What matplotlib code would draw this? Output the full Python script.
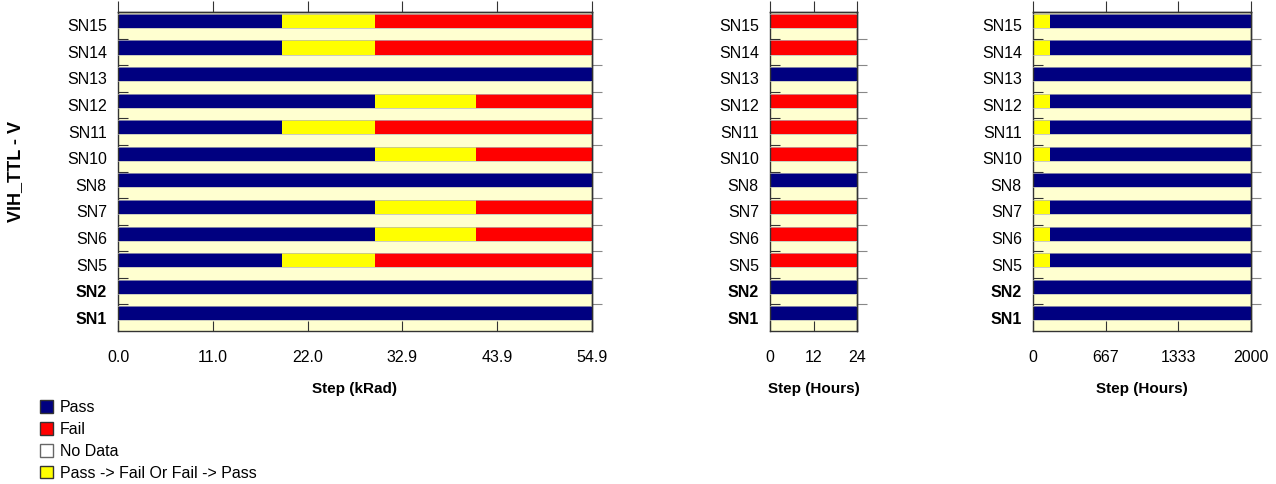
import matplotlib.pyplot as plt
from matplotlib.patches import Patch

plt.rcParams['font.family'] = ['Liberation Sans', 'DejaVu Sans']
plt.rcParams['font.size'] = 11.5

# rows, bottom to top
units = ['SN1', 'SN2', 'SN5', 'SN6', 'SN7', 'SN8', 'SN10', 'SN11', 'SN12', 'SN13', 'SN14', 'SN15']
bold_units = ['SN1', 'SN2']

# status codes: P = pass, F = fail, T = transition (pass -> fail or fail -> pass)
krad_status = ['P', 'P', 'PTF', 'PTF', 'PTF', 'P', 'PTF', 'PTF', 'PTF', 'P', 'PTF', 'PTF']
krad_edges = [[0, 54.9], [0, 54.9],
              [0, 19.0, 29.8, 54.9], [0, 29.8, 41.5, 54.9], [0, 29.8, 41.5, 54.9],
              [0, 54.9],
              [0, 29.8, 41.5, 54.9], [0, 19.0, 29.8, 54.9], [0, 29.8, 41.5, 54.9],
              [0, 54.9],
              [0, 19.0, 29.8, 54.9], [0, 19.0, 29.8, 54.9]]
krad_ticks = [0.0, 11.0, 22.0, 32.9, 43.9, 54.9]

anneal_status = ['P', 'P', 'F', 'F', 'F', 'P', 'F', 'F', 'F', 'P', 'F', 'F']
anneal_edges = [[0, 24]] * 12
anneal_ticks = [0, 12, 24]

life_status = ['P', 'P', 'TP', 'TP', 'TP', 'P', 'TP', 'TP', 'TP', 'P', 'TP', 'TP']
life_edges = [[0, 2000] if s == 'P' else [0, 156, 2000] for s in life_status]
life_ticks = [0, 667, 1333, 2000]

colors = {'P': '#000080', 'F': '#ff0000', 'T': '#ffff00'}
bg = '#ffffd0'

fig = plt.figure(figsize=(12.76, 4.84), dpi=100)
H = 484.0
W = 1276.0
bottom = 1 - 331 / H
height = (331 - 12) / H
ax1 = fig.add_axes([118 / W, bottom, 474 / W, height])
ax2 = fig.add_axes([770 / W, bottom, 87 / W, height])
ax3 = fig.add_axes([1033 / W, bottom, 218 / W, height])


def draw(ax, status, edges, ticks, fmt, xlabel):
    ax.set_facecolor(bg)
    for i, (st, ed) in enumerate(zip(status, edges)):
        for j, code in enumerate(st):
            ax.barh(i + 0.665, ed[j + 1] - ed[j], left=ed[j], height=0.53,
                    color=colors[code], edgecolor='none', zorder=2)
    ax.set_xlim(ticks[0], ticks[-1])
    ax.set_ylim(0, len(status))
    # faint row separators
    for i in range(len(status)):
        ax.axhline(i + 0.40, color='#b8b8b8', lw=0.5, zorder=3)
        ax.axhline(i + 0.93, color='#b8b8b8', lw=0.5, zorder=3)
    ax.set_xticks(ticks)
    ax.set_xticklabels([fmt.format(t) for t in ticks])
    ax.set_yticks(range(1, len(status)))
    ax.set_yticklabels([])
    ax.set_yticks([i + 0.5 for i in range(len(status))], units, minor=True)
    for lab in ax.get_yticklabels(minor=True):
        if lab.get_text() in bold_units:
            lab.set_fontweight('bold')
    ax.tick_params(axis='both', which='major', direction='in', length=7, color='#333333')
    ax.tick_params(axis='x', which='major', pad=14)
    ax.tick_params(axis='y', which='minor', length=0, pad=8)
    top = ax.secondary_xaxis('top')
    top.set_xticks(ticks)
    top.set_xticklabels([])
    top.tick_params(direction='out', length=8, color='#333333')
    right = ax.secondary_yaxis('right')
    right.set_yticks(range(1, len(status)))
    right.set_yticklabels([])
    right.tick_params(direction='out', length=7, color='#888888')
    for sp in list(ax.spines.values()) + [top.spines['top'], right.spines['right']]:
        sp.set_color('#333333')
        sp.set_linewidth(1.0)
    ax.set_xlabel(xlabel, fontweight='bold', fontsize=11, labelpad=12)


draw(ax1, krad_status, krad_edges, krad_ticks, '{:.1f}', 'Step (kRad)')
draw(ax2, anneal_status, anneal_edges, anneal_ticks, '{:d}', 'Step (Hours)')
draw(ax3, life_status, life_edges, life_ticks, '{:d}', 'Step (Hours)')

fig.text(16 / W, 1 - 172 / H, 'VIH_TTL - V', rotation=90, ha='center', va='center',
         fontweight='bold', fontsize=13)

handles = [Patch(facecolor='#000080', edgecolor='#333333', label='Pass'),
           Patch(facecolor='#ff0000', edgecolor='#333333', label='Fail'),
           Patch(facecolor='white', edgecolor='#666666', label='No Data'),
           Patch(facecolor='#ffff00', edgecolor='#333333', label='Pass -> Fail Or Fail -> Pass')]
fig.legend(handles=handles, loc='upper left', bbox_to_anchor=(40 / W, 1 - 400 / H),
           frameon=False, handlelength=0.8, handleheight=0.85, handletextpad=0.45,
           labelspacing=0.43, borderaxespad=0, borderpad=0, fontsize=11.5)

fig.savefig('out.png', dpi=100)
